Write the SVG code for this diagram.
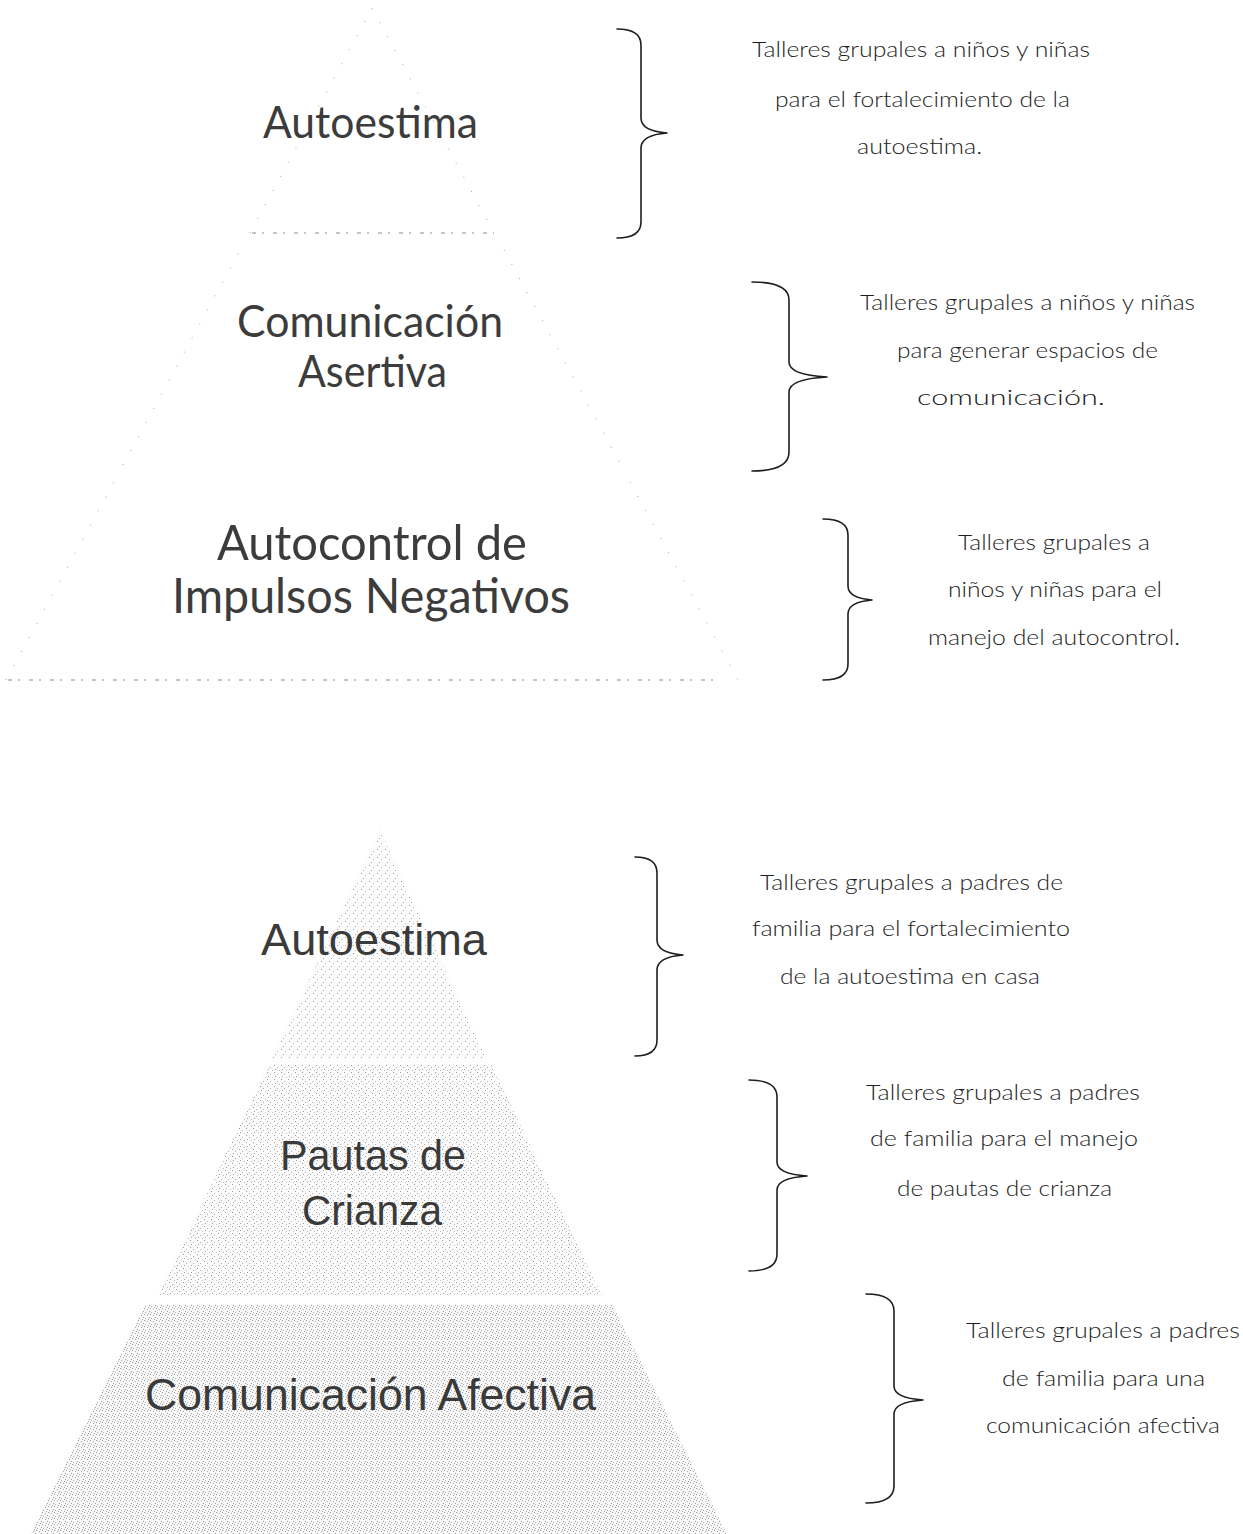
<svg xmlns="http://www.w3.org/2000/svg" width="1243" height="1534" viewBox="0 0 1243 1534">
  <style>
    .bg { fill: #ffffff; }
    .tierTop { fill: #ffffff; stroke: none; }
    .edge { fill: none; stroke: #a0a0a0; stroke-width: 1; stroke-dasharray: 1 15; }
    .baseLine { stroke: #8a8a8a; stroke-width: 1.2; stroke-dasharray: 4 6 2 9; fill: none; }
    .lblTop { font-family: Lato, "Open Sans", "Liberation Sans", sans-serif; font-weight: 400; fill: #3c3c3c; }
    .lblBot { font-family: "Liberation Sans", Arial, sans-serif; fill: #3a3a3a; }
    .desc { font-family: Lato, "Open Sans", "Liberation Sans", sans-serif; font-weight: 300; font-size: 22px; fill: #1e1e1e; }
    .brace { fill: none; stroke: #1e1e1e; stroke-width: 1.6; stroke-linecap: round; stroke-linejoin: round; }
  </style>
  <defs>
    <pattern id="dotsLight" width="8" height="8" patternUnits="userSpaceOnUse">
      <rect width="8" height="8" fill="#fcfcfc"/>
      <rect x="1" y="1" width="1" height="1" fill="#9c9c9c"/>
      <rect x="5" y="3" width="1" height="1" fill="#b8b8b8"/>
      <rect x="3" y="6" width="1" height="1" fill="#a8a8a8"/>
    </pattern>
    <pattern id="dotsMid" width="7" height="7" patternUnits="userSpaceOnUse">
      <rect width="7" height="7" fill="#fbfbfb"/>
      <rect x="1" y="1" width="1" height="1" fill="#999"/>
      <rect x="4" y="3" width="1" height="1" fill="#b0b0b0"/>
      <rect x="2" y="5" width="1" height="1" fill="#a0a0a0"/>
      <rect x="6" y="6" width="1" height="1" fill="#c0c0c0"/>
    </pattern>
    <pattern id="dotsDense" width="6" height="6" patternUnits="userSpaceOnUse">
      <rect width="6" height="6" fill="#f8f8f8"/>
      <rect x="0" y="0" width="1" height="1" fill="#999"/>
      <rect x="3" y="1" width="1" height="1" fill="#aaa"/>
      <rect x="5" y="3" width="1" height="1" fill="#9c9c9c"/>
      <rect x="1" y="4" width="1" height="1" fill="#b0b0b0"/>
      <rect x="4" y="5" width="1" height="1" fill="#a4a4a4"/>
    </pattern>
  </defs>

  <rect class="bg" x="0" y="0" width="1243" height="1534"/>

  <!-- Top pyramid (niños y niñas) -->
  <g id="top-tier-autoestima">
    <polygon class="tierTop" points="372,8 494,233 250,233"/>
    <path class="edge" d="M250,233 L372,8 L494,233"/>
    <line class="baseLine" x1="252" y1="233" x2="494" y2="233"/>
    <text class="lblTop" x="263" y="138" font-size="44" textLength="215" lengthAdjust="spacingAndGlyphs">Autoestima</text>
  </g>
  <g id="top-tier-comunicacion">
    <polygon class="tierTop" points="240,250 504,250 621,465 123,465"/>
    <path class="edge" d="M123,465 L240,250 M504,250 L621,465"/>
    <text class="lblTop" x="237" y="337" font-size="44" textLength="266" lengthAdjust="spacingAndGlyphs">Comunicación</text>
    <text class="lblTop" x="298" y="387" font-size="44" textLength="149" lengthAdjust="spacingAndGlyphs">Asertiva</text>
  </g>
  <g id="top-tier-autocontrol">
    <polygon class="tierTop" points="114,482 630,482 738,680 6,680"/>
    <path class="edge" d="M6,680 L114,482 M630,482 L738,680"/>
    <line class="baseLine" x1="8" y1="680" x2="720" y2="680"/>
    <text class="lblTop" x="217" y="560" font-size="49" textLength="310" lengthAdjust="spacingAndGlyphs">Autocontrol de</text>
    <text class="lblTop" x="172" y="613" font-size="49" textLength="398" lengthAdjust="spacingAndGlyphs">Impulsos Negativos</text>
  </g>

  <!-- Bottom pyramid (padres de familia) -->
  <g id="bot-tier-autoestima">
    <polygon points="380,830 486,1058 272,1058" fill="url(#dotsLight)"/>
    <text class="lblBot" x="261" y="955" font-size="45" textLength="226" lengthAdjust="spacingAndGlyphs">Autoestima</text>
  </g>
  <g id="bot-tier-pautas">
    <polygon points="269,1064 491,1064 602,1296 158,1296" fill="url(#dotsMid)"/>
    <text class="lblBot" x="280" y="1170" font-size="43" textLength="186" lengthAdjust="spacingAndGlyphs">Pautas de</text>
    <text class="lblBot" x="302" y="1225" font-size="43" textLength="140" lengthAdjust="spacingAndGlyphs">Crianza</text>
  </g>
  <g id="bot-tier-comunicacion">
    <polygon points="145,1304 612,1304 727,1534 30,1534" fill="url(#dotsDense)"/>
    <text class="lblBot" x="145" y="1410" font-size="44" textLength="451" lengthAdjust="spacingAndGlyphs">Comunicación Afectiva</text>
  </g>

  <!-- Connectors: braces -->
  <g id="connectors">
    <path class="brace" d="M617,29 Q641,29 641,45 L641,118 Q641,131 667,133 Q641,135 641,148 L641,222 Q641,238 617,238"/>
    <path class="brace" d="M752,282 Q789,282 789,300 L789,362 Q789,375 827,377 Q789,379 789,392 L789,452 Q789,471 752,471"/>
    <path class="brace" d="M823,519 Q848,519 848,535 L848,586 Q848,598 872,600 Q848,602 848,614 L848,664 Q848,680 823,680"/>
    <path class="brace" d="M635,857 Q657,857 657,873 L657,940 Q657,953 683,955 Q657,957 657,970 L657,1040 Q657,1056 635,1056"/>
    <path class="brace" d="M749,1080 Q777,1080 777,1097 L777,1162 Q777,1174 807,1176 Q777,1178 777,1190 L777,1254 Q777,1271 749,1271"/>
    <path class="brace" d="M866,1294 Q894,1294 894,1311 L894,1386 Q894,1398 923,1400 Q894,1402 894,1414 L894,1486 Q894,1503 866,1503"/>
  </g>

  <!-- Description texts -->
  <g id="desc-1">
    <text class="desc" x="752" y="57" textLength="338" lengthAdjust="spacingAndGlyphs">Talleres grupales a niños y niñas</text>
    <text class="desc" x="775" y="107" textLength="295" lengthAdjust="spacingAndGlyphs">para el fortalecimiento de la</text>
    <text class="desc" x="857" y="154" textLength="125" lengthAdjust="spacingAndGlyphs">autoestima.</text>
  </g>
  <g id="desc-2">
    <text class="desc" x="860" y="310" textLength="335" lengthAdjust="spacingAndGlyphs">Talleres grupales a niños y niñas</text>
    <text class="desc" x="897" y="358" textLength="261" lengthAdjust="spacingAndGlyphs">para generar espacios de</text>
    <text class="desc" x="917" y="405" textLength="188" lengthAdjust="spacingAndGlyphs">comunicación.</text>
  </g>
  <g id="desc-3">
    <text class="desc" x="958" y="550" textLength="192" lengthAdjust="spacingAndGlyphs">Talleres grupales a</text>
    <text class="desc" x="948" y="597" textLength="214" lengthAdjust="spacingAndGlyphs">niños y niñas para el</text>
    <text class="desc" x="928" y="645" textLength="252" lengthAdjust="spacingAndGlyphs">manejo del autocontrol.</text>
  </g>
  <g id="desc-4">
    <text class="desc" x="760" y="890" textLength="303" lengthAdjust="spacingAndGlyphs">Talleres grupales a padres de</text>
    <text class="desc" x="752" y="936" textLength="318" lengthAdjust="spacingAndGlyphs">familia para el fortalecimiento</text>
    <text class="desc" x="780" y="984" textLength="260" lengthAdjust="spacingAndGlyphs">de la autoestima en casa</text>
  </g>
  <g id="desc-5">
    <text class="desc" x="866" y="1100" textLength="274" lengthAdjust="spacingAndGlyphs">Talleres grupales a padres</text>
    <text class="desc" x="870" y="1146" textLength="268" lengthAdjust="spacingAndGlyphs">de familia para el manejo</text>
    <text class="desc" x="897" y="1196" textLength="215" lengthAdjust="spacingAndGlyphs">de pautas de crianza</text>
  </g>
  <g id="desc-6">
    <text class="desc" x="966" y="1338" textLength="274" lengthAdjust="spacingAndGlyphs">Talleres grupales a padres</text>
    <text class="desc" x="1002" y="1386" textLength="203" lengthAdjust="spacingAndGlyphs">de familia para una</text>
    <text class="desc" x="986" y="1433" textLength="234" lengthAdjust="spacingAndGlyphs">comunicación afectiva</text>
  </g>
</svg>
